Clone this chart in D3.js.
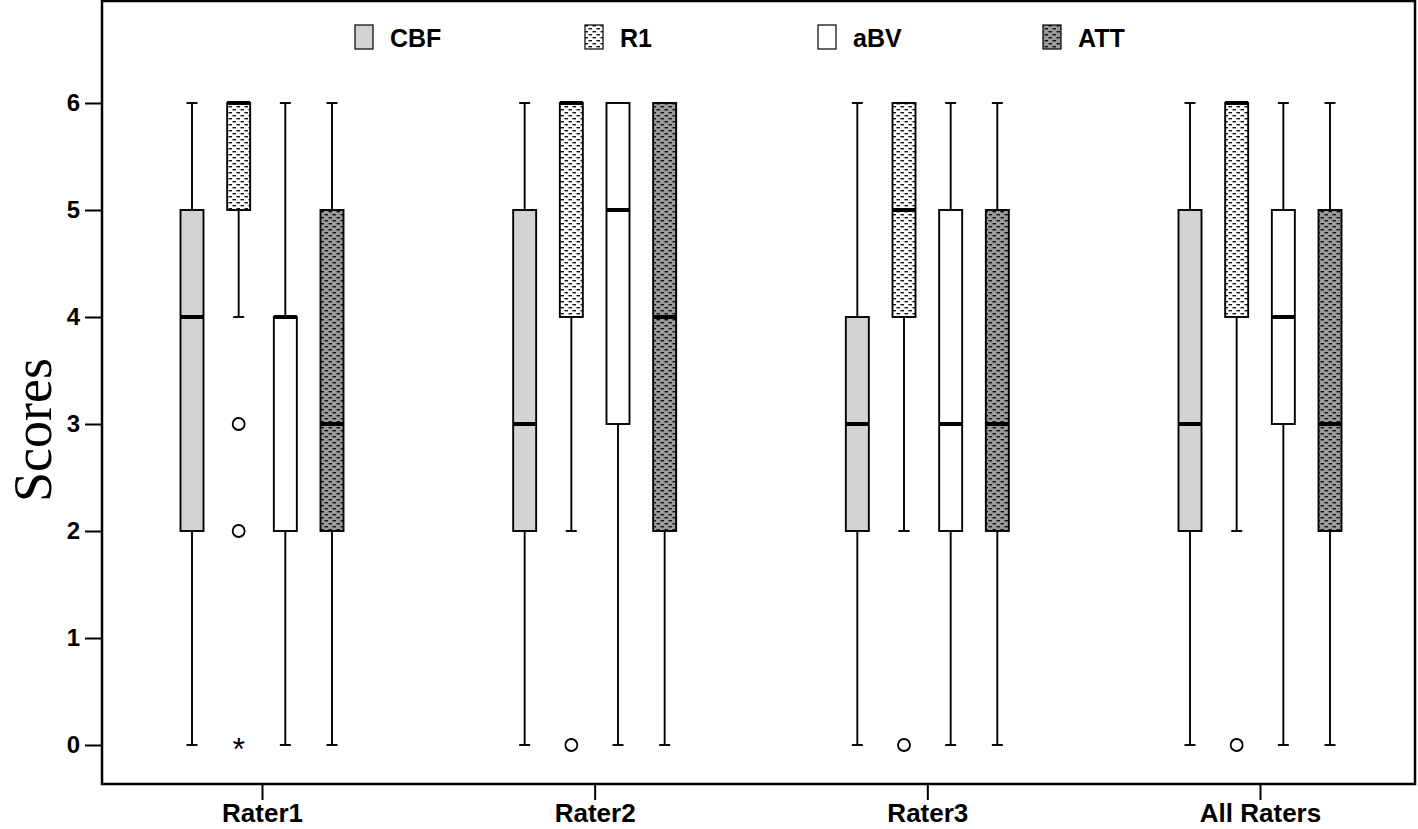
<!DOCTYPE html>
<html><head><meta charset="utf-8">
<script src="https://cdn.jsdelivr.net/npm/d3@7"></script>
<style>body{margin:0;background:#fff}svg{display:block}</style>
</head><body><svg id="c" width="1418" height="829"></svg>
<script>
const groups = ["Rater1","Rater2","Rater3","All Raters"];
const series = ["CBF","R1","aBV","ATT"];
const yTicks = [0,1,2,3,4,5,6];
// [min, q1, median, q3, max] per group, per series
const CBF = [[0,2,4,5,6],[0,2,3,5,6],[0,2,3,4,6],[0,2,3,5,6]];
const R1  = [[4,5,6,6,6],[2,4,6,6,6],[2,4,5,6,6],[2,4,6,6,6]];
const aBV = [[0,2,4,4,6],[0,3,5,6,6],[0,2,3,5,6],[0,3,4,5,6]];
const ATT = [[0,2,3,5,6],[0,2,4,6,6],[0,2,3,5,6],[0,2,3,5,6]];
// outliers: [group, series, value, type]
const outliers = [
  ["Rater1","R1",3,"o"],["Rater1","R1",2,"o"],["Rater1","R1",0,"*"],
  ["Rater2","R1",0,"o"],["Rater3","R1",0,"o"],["All Raters","R1",0,"o"]
];
const seriesData = {CBF, R1, aBV, ATT};

const svg = d3.select("#c");
const defs = svg.append("defs");
function dashPattern(id, bg){
  const p = defs.append("pattern").attr("id",id).attr("patternUnits","userSpaceOnUse")
    .attr("width",8).attr("height",6);
  p.append("rect").attr("width",8).attr("height",6).attr("fill",bg);
  p.append("rect").attr("x",0.5).attr("y",1).attr("width",3.5).attr("height",1.4).attr("fill","#111");
  p.append("rect").attr("x",4.5).attr("y",4).attr("width",3.5).attr("height",1.4).attr("fill","#111");
}
dashPattern("pR1","#fff");
dashPattern("pATT","#9a9a9a");
const fills = {CBF:"#d3d3d3", R1:"url(#pR1)", aBV:"#fff", ATT:"url(#pATT)"};

const frame = {l:102, t:1, r:1415, b:784};
const y = d3.scaleLinear().domain([0,6]).range([745,103]);
const x = d3.scalePoint().domain(groups).range([262,1260]);
const xs = d3.scalePoint().domain(series).range([-70,70]);
const bw = 23, cap = 11, sw = 1.9;

svg.append("rect").attr("x",frame.l).attr("y",frame.t).attr("width",frame.r-frame.l).attr("height",frame.b-frame.t)
  .attr("fill","none").attr("stroke","#000").attr("stroke-width",2.5);

// y axis
const ya = svg.append("g").attr("transform",`translate(${frame.l},0)`)
  .call(d3.axisLeft(y).tickValues(yTicks).tickSize(17).tickPadding(5).tickFormat(d3.format("d")));
ya.select(".domain").remove();
ya.selectAll("line").attr("stroke","#000").attr("stroke-width",2);
ya.selectAll("text").attr("font-family","Liberation Sans, Arial, sans-serif").attr("font-weight","bold")
  .attr("font-size",24).attr("fill","#000");

// x axis
const xa = svg.append("g").attr("transform",`translate(0,${frame.b})`)
  .call(d3.axisBottom(x).tickSize(16).tickPadding(4));
xa.select(".domain").remove();
xa.selectAll("line").attr("stroke","#000").attr("stroke-width",2);
xa.selectAll("text").attr("font-family","Liberation Sans, Arial, sans-serif").attr("font-weight","bold")
  .attr("font-size",26).attr("fill","#000");

svg.append("text").attr("transform","translate(51,430) rotate(-90)").attr("text-anchor","middle")
  .attr("font-family","Liberation Serif, Times New Roman, serif").attr("font-size",54).text("Scores");

// boxes
series.forEach(s=>{
  seriesData[s].forEach((d,gi)=>{
    const cx = x(groups[gi]) + xs(s);
    const [mn,q1,md,q3,mx] = d;
    const g = svg.append("g");
    if (q3 < mx) {
      g.append("line").attr("x1",cx).attr("x2",cx).attr("y1",y(q3)).attr("y2",y(mx)).attr("stroke","#000").attr("stroke-width",sw);
    }
    if (mn < q1) {
      g.append("line").attr("x1",cx).attr("x2",cx).attr("y1",y(q1)).attr("y2",y(mn)).attr("stroke","#000").attr("stroke-width",sw);
    }
    g.append("line").attr("x1",cx-cap/2).attr("x2",cx+cap/2).attr("y1",y(mx)).attr("y2",y(mx)).attr("stroke","#000").attr("stroke-width",sw);
    g.append("line").attr("x1",cx-cap/2).attr("x2",cx+cap/2).attr("y1",y(mn)).attr("y2",y(mn)).attr("stroke","#000").attr("stroke-width",sw);
    g.append("rect").attr("x",cx-bw/2).attr("y",y(q3)).attr("width",bw).attr("height",y(q1)-y(q3))
      .attr("fill",fills[s]).attr("stroke","#000").attr("stroke-width",sw);
    g.append("line").attr("x1",cx-bw/2).attr("x2",cx+bw/2).attr("y1",y(md)).attr("y2",y(md)).attr("stroke","#000").attr("stroke-width",4);
  });
});

// outliers
outliers.forEach(([gr,s,v,t])=>{
  const cx = x(gr)+xs(s);
  if (t==="o") {
    svg.append("circle").attr("cx",cx).attr("cy",y(v)).attr("r",6).attr("fill","none").attr("stroke","#000").attr("stroke-width",1.8);
  } else {
    svg.append("text").attr("x",cx).attr("y",y(v)+15).attr("text-anchor","middle")
      .attr("font-family","Liberation Sans, Arial, sans-serif").attr("font-size",32).text("*");
  }
});

// legend
const legX = [355, 585, 818, 1043];
series.forEach((s,i)=>{
  svg.append("rect").attr("x",legX[i]).attr("y",25).attr("width",18).attr("height",24)
    .attr("fill",fills[s]).attr("stroke","#000").attr("stroke-width",1.2);
  svg.append("text").attr("x",legX[i]+35).attr("y",47).attr("font-family","Liberation Sans, Arial, sans-serif")
    .attr("font-weight","bold").attr("font-size",25).text(s);
});
</script></body></html>
